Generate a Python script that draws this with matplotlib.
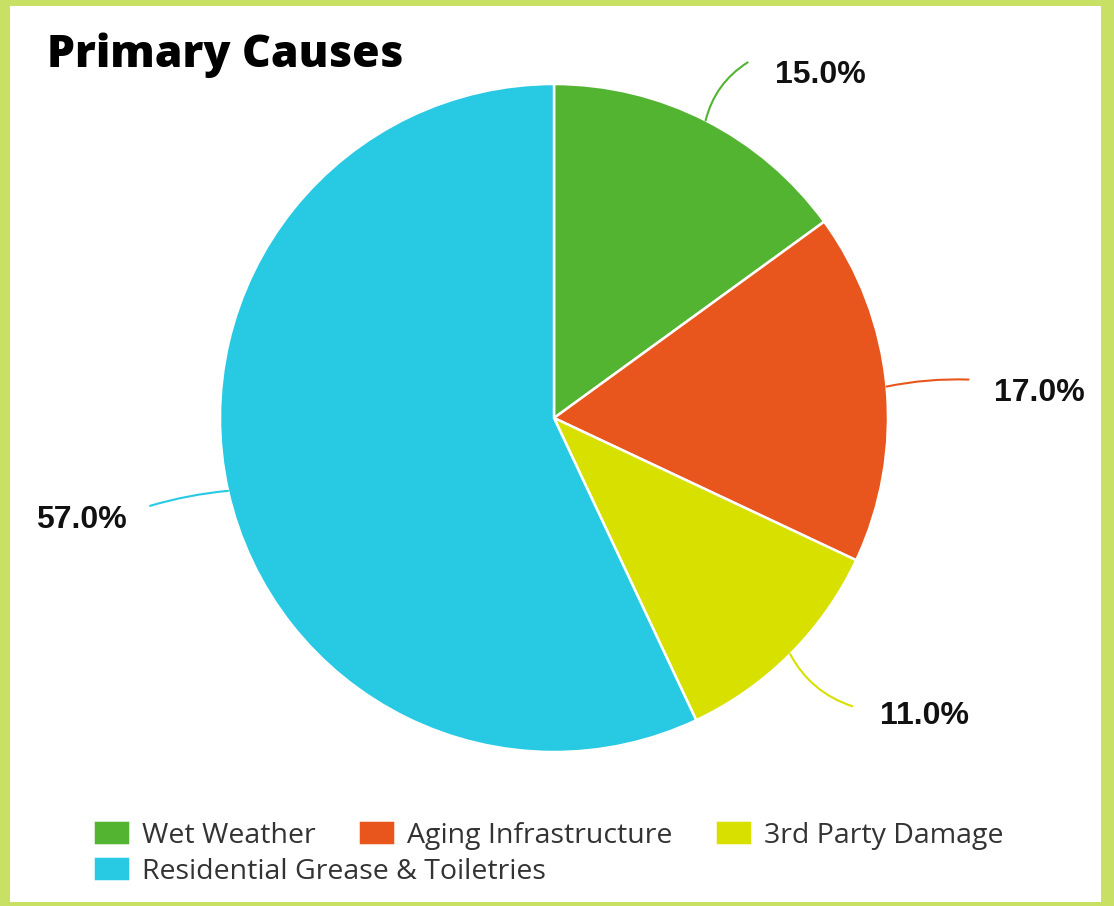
import matplotlib
matplotlib.use("Agg")
import matplotlib.pyplot as plt
from matplotlib.patches import Rectangle
import numpy as np

# data
labels = ["Wet Weather", "Aging Infrastructure", "3rd Party Damage",
          "Residential Grease & Toiletries"]
values = [15.0, 17.0, 11.0, 57.0]
colors = ["#53b432", "#e8561e", "#d8e000", "#27c9e3"]

W, H = 1114, 906
BORDER = "#c8e165"

fig = plt.figure(figsize=(W / 100, H / 100), dpi=100, facecolor=BORDER)
ax = fig.add_axes([0, 0, 1, 1])

# white panel inside the green frame
ax.add_patch(Rectangle((10, 4), 1091, 896, facecolor="white", edgecolor="none", zorder=0))

cx, cy, r = 554, H - 418, 334
wedges, _ = ax.pie(values, colors=colors, startangle=90, counterclock=False,
                   center=(cx, cy), radius=r,
                   wedgeprops=dict(edgecolor="white", linewidth=1.8))

# label leader lines: (line end offset dx, dy), curvature, text position offset, alignment
lead = [
    ((42, 58), 0.2, (69, 45), "left"),
    ((82, 7), 0.06, (107, -6), "left"),
    ((62, -52), -0.2, (90, -62), "left"),
    ((-78, -15), -0.05, (-101, -29), "right"),
]

for w, v, col, (end, rad, toff, ha) in zip(wedges, values, colors, lead):
    ang = np.deg2rad((w.theta1 + w.theta2) / 2)
    x0 = cx + r * np.cos(ang)
    y0 = cy + r * np.sin(ang)
    x1, y1 = x0 + end[0], y0 + end[1]
    ax.annotate("", xy=(x0, y0), xytext=(x1, y1),
                arrowprops=dict(arrowstyle="-", color=col, lw=1.5,
                                shrinkA=0, shrinkB=0,
                                connectionstyle="arc3,rad=%s" % rad))
    ax.text(x0 + toff[0], y0 + toff[1], "%.1f%%" % v, ha=ha, va="center",
            fontsize=23, fontweight="bold", color="#111111",
            family="Liberation Sans")

ax.set_xlim(0, W)
ax.set_ylim(0, H)
ax.set_aspect("equal")
ax.axis("off")

fig.text(47 / W, 1 - 55 / H, "Primary Causes", fontsize=32, fontweight="heavy",
         family="Open Sans", color="#000000", va="center", ha="left")

# legend, two rows like the original
leg_kw = dict(frameon=False, loc="center left", borderaxespad=0, borderpad=0,
              handlelength=1.3, handleheight=0.95, handletextpad=0.42,
              prop=dict(family="Open Sans", size=20.5), labelcolor="#333333")
leg1 = fig.legend(wedges[:3], labels[:3], ncol=3, columnspacing=1.5,
                  bbox_to_anchor=(93 / W, 1 - 835 / H), **leg_kw)
leg2 = fig.legend(wedges[3:], labels[3:], ncol=1,
                  bbox_to_anchor=(93 / W, 1 - 871 / H), **leg_kw)

fig.savefig("out.png", dpi=100, facecolor=BORDER)
